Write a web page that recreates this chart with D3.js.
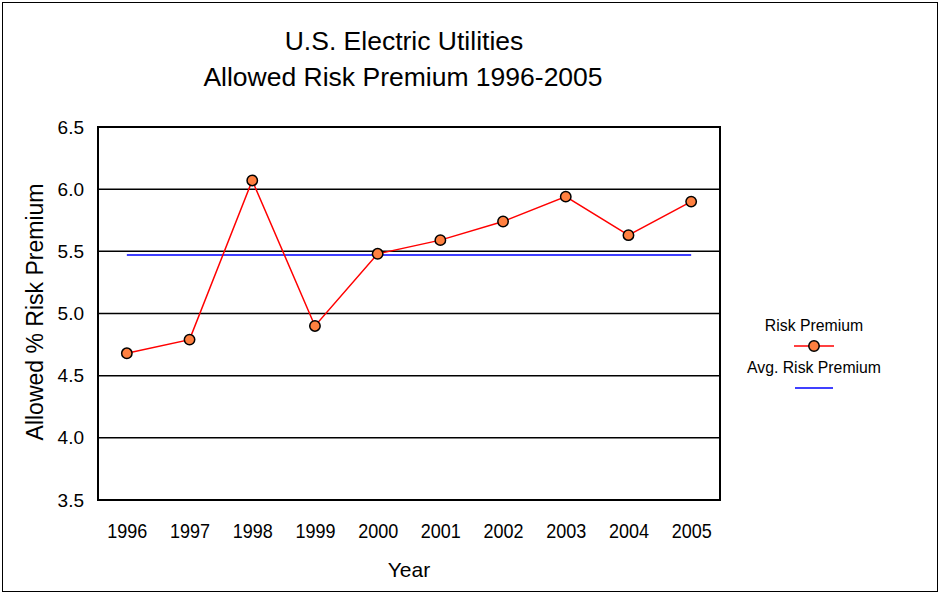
<!DOCTYPE html>
<html>
<head>
<meta charset="utf-8">
<script src="https://cdn.jsdelivr.net/npm/d3@7"></script>
<style>
  body { margin: 0; background: #fff; }
  text { font-family: "Liberation Sans", Arial, sans-serif; fill: #000; }
</style>
</head>
<body>
<div id="chart"></div>
<script>
var years = ["1996", "1997", "1998", "1999", "2000", "2001", "2002", "2003", "2004", "2005"];
var riskPremium = [4.68, 4.79, 6.07, 4.90, 5.48, 5.59, 5.74, 5.94, 5.63, 5.90];
var avgRiskPremium = [5.47, 5.47, 5.47, 5.47, 5.47, 5.47, 5.47, 5.47, 5.47, 5.47];
var yTicks = [3.5, 4.0, 4.5, 5.0, 5.5, 6.0, 6.5];

var width = 940, height = 595;
var plot = { left: 98, top: 127, right: 720, bottom: 500 };

var svg = d3.select("#chart")
            .append("svg")
            .attr("width", width)
            .attr("height", height);

svg.append("rect")
   .attr("x", 2.5).attr("y", 2.5)
   .attr("width", 935).attr("height", 589)
   .attr("fill", "#fff")
   .attr("stroke", "#000")
   .attr("stroke-width", 1);

var x = d3.scalePoint()
          .domain(years)
          .range([plot.left, plot.right])
          .padding(0.46);

var y = d3.scaleLinear()
          .domain([3.5, 6.5])
          .range([plot.bottom, plot.top]);

// gridlines
svg.append("g")
   .selectAll("line")
   .data(yTicks.slice(1, -1))
   .enter()
   .append("line")
     .attr("x1", plot.left).attr("x2", plot.right)
     .attr("y1", function(d) { return y(d); })
     .attr("y2", function(d) { return y(d); })
     .attr("stroke", "#000")
     .attr("stroke-width", 1.5);

// y axis
var yAxis = svg.append("g")
   .attr("transform", "translate(" + plot.left + ",0)")
   .call(d3.axisLeft(y).tickValues(yTicks).tickFormat(d3.format(".1f")).tickSize(0).tickPadding(14));
yAxis.select(".domain").remove();
yAxis.selectAll("text").style("font-size", "19px").style("font-family", "Liberation Sans, Arial, sans-serif");

// x axis
var xAxis = svg.append("g")
   .attr("transform", "translate(0," + plot.bottom + ")")
   .call(d3.axisBottom(x).tickSize(0).tickPadding(24));
xAxis.select(".domain").remove();
xAxis.selectAll("text")
     .style("font-size", "20px")
     .style("font-family", "Liberation Sans, Arial, sans-serif")
     .attr("transform", "scale(0.9,1)");

// avg line
var line = d3.line()
             .x(function(d, i) { return x(years[i]); })
             .y(function(d) { return y(d); });

svg.append("path")
   .attr("d", line(avgRiskPremium))
   .attr("fill", "none")
   .attr("stroke", "#0000ff")
   .attr("stroke-width", 1.5);

svg.append("path")
   .attr("d", line(riskPremium))
   .attr("fill", "none")
   .attr("stroke", "#ff0000")
   .attr("stroke-width", 1.5);

svg.append("g")
   .selectAll("circle")
   .data(riskPremium)
   .enter()
   .append("circle")
     .attr("cx", function(d, i) { return x(years[i]); })
     .attr("cy", function(d) { return y(d); })
     .attr("r", 5.2)
     .attr("fill", "#ff8040")
     .attr("stroke", "#000")
     .attr("stroke-width", 1.5);

// plot frame
svg.append("rect")
   .attr("x", plot.left).attr("y", plot.top)
   .attr("width", plot.right - plot.left)
   .attr("height", plot.bottom - plot.top)
   .attr("fill", "none")
   .attr("stroke", "#000")
   .attr("stroke-width", 2);

// titles
svg.append("text")
   .attr("x", 404).attr("y", 50)
   .attr("text-anchor", "middle")
   .style("font-size", "26.5px")
   .text("U.S. Electric Utilities");
svg.append("text")
   .attr("x", 403).attr("y", 86)
   .attr("text-anchor", "middle")
   .style("font-size", "26.5px")
   .text("Allowed Risk Premium 1996-2005");

svg.append("text")
   .attr("transform", "translate(43,312) rotate(-90)")
   .attr("text-anchor", "middle")
   .style("font-size", "23px")
   .text("Allowed % Risk Premium");

svg.append("text")
   .attr("x", 409).attr("y", 577)
   .attr("text-anchor", "middle")
   .style("font-size", "21px")
   .text("Year");

// legend
var legend = svg.append("g").attr("transform", "translate(814,0)");
legend.append("text")
   .attr("x", 0).attr("y", 331)
   .attr("text-anchor", "middle")
   .style("font-size", "15.8px")
   .text("Risk Premium");
legend.append("line")
   .attr("x1", -20).attr("x2", 20)
   .attr("y1", 346).attr("y2", 346)
   .attr("stroke", "#ff0000").attr("stroke-width", 1.5);
legend.append("circle")
   .attr("cx", 0).attr("cy", 346).attr("r", 5.2)
   .attr("fill", "#ff8040").attr("stroke", "#000").attr("stroke-width", 1.5);
legend.append("text")
   .attr("x", 0).attr("y", 373)
   .attr("text-anchor", "middle")
   .style("font-size", "15.8px")
   .text("Avg. Risk Premium");
legend.append("line")
   .attr("x1", -19).attr("x2", 19)
   .attr("y1", 388).attr("y2", 388)
   .attr("stroke", "#0000ff").attr("stroke-width", 1.5);
</script>
</body>
</html>
